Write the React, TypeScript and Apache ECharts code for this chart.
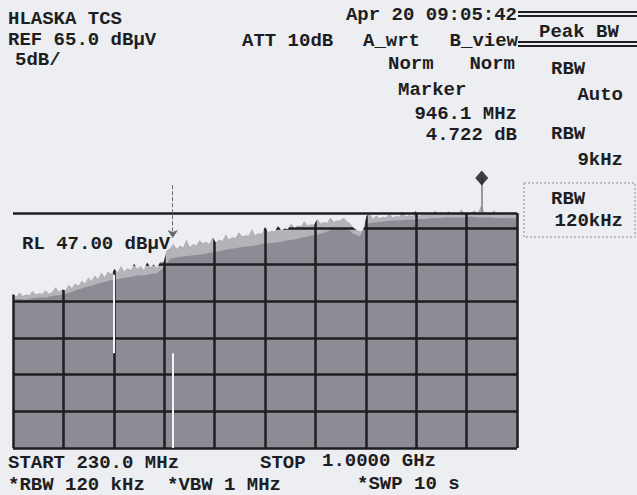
import { useEffect, useRef } from "react";
import * as echarts from "echarts";

const START_MHZ = 230;
const STOP_MHZ = 1000;
const DIV_MHZ = 77;
const BOTTOM_LEVEL = 15;
const REF_LEVEL = 65;
const DB_PER_DIV = 5;
const RL_LEVEL = 47;
const MARKER_MHZ = 946.1;
const MARKER_LEVEL = 51.8;
const MARKER_STEM_LEVEL = 47.2;
const DISPLAY_MARK_MHZ = 474;
const DISPLAY_MARK_TOP = 50.8;
const DISPLAY_MARK_BOTTOM = 43.6;

const BODY_STEP_MHZ = 10;
const bodyLevels = [
  35.2, 35.3, 35.2, 35.4, 35.5, 35.5, 35.7, 35.8, 36.0, 36.3,
  36.6, 36.9, 37.1, 37.4, 37.6, 37.9, 38.0, 38.2, 38.3, 38.5,
  38.5, 38.7, 38.8, 39.6, 40.8, 41.0, 41.1, 41.2, 41.3, 41.4,
  41.6, 41.7, 41.9, 42.1, 42.2, 42.4, 42.5, 42.6, 42.8, 42.9,
  43.0, 43.1, 43.3, 43.4, 43.6, 43.8, 44.0, 44.2, 44.5, 44.8,
  45.0, 44.9, 44.2, 43.8, 45.6, 45.7, 45.8, 45.9, 46.0, 46.0,
  46.1, 46.1, 46.2, 46.2, 46.3, 46.3, 46.4, 46.4, 46.4, 46.4,
  46.5, 46.4, 46.4, 46.4, 46.3, 46.3, 46.3, 46.3,
];

const PEAK_STEP_MHZ = 5;
const peakLevels = [
  35.9, 35.6, 36.2, 35.7, 35.9, 35.8, 36.4, 35.9, 36.1, 36.0,
  36.5, 36.0, 36.3, 36.9, 36.3, 36.6, 36.5, 37.2, 36.8, 37.4,
  37.1, 37.8, 37.4, 38.2, 37.8, 38.5, 38.0, 38.9, 38.3, 39.0,
  38.7, 39.4, 38.9, 39.8, 39.0, 39.5, 39.2, 40.1, 39.4, 39.8,
  39.3, 40.3, 39.6, 40.0, 39.5, 40.4, 40.3, 41.9, 42.2, 42.8,
  42.1, 42.6, 42.3, 43.4, 42.4, 42.8, 42.6, 43.3, 42.9, 43.1,
  42.8, 43.7, 43.0, 43.4, 43.2, 44.1, 43.4, 43.7, 43.6, 44.4,
  43.8, 44.0, 43.9, 44.8, 44.0, 44.3, 44.2, 45.1, 44.4, 44.6,
  44.5, 45.3, 44.6, 44.9, 44.8, 45.6, 45.0, 45.3, 45.2, 45.9,
  45.3, 45.5, 45.4, 46.2, 45.6, 45.8, 45.7, 46.4, 45.8, 46.0,
  46.0, 46.4, 45.9, 45.6, 45.0, 44.7, 44.5, 44.7, 46.6, 47.0,
  46.2, 46.7, 46.3, 46.5, 46.4, 47.0, 46.4, 46.6, 46.5, 47.2,
  46.5, 46.7, 46.6, 47.3, 46.6, 46.8, 46.7, 47.1, 46.7, 47.4,
  46.8, 46.9, 46.7, 47.3, 46.8, 47.0, 46.8, 47.5, 46.9, 47.1,
  47.0, 47.4, 46.9, 48.0, 47.1, 47.0, 46.8, 47.4, 46.9, 47.1,
  46.8, 47.2, 46.7, 47.0, 46.8,
];

// white scan streaks: [MHz, from level, to level]
const streaks = [
  [384, 38.6, 27.9],
  [474, 27.9, 15],
];

const leftTexts = [
  { text: "HLASKA TCS", x: 8, y: 19 },
  { text: "REF 65.0 dB\u00b5V", x: 8, y: 40 },
  { text: "ATT 10dB", x: 242, y: 41 },
  { text: "A_wrt", x: 363, y: 41 },
  { text: "5dB/", x: 15, y: 60 },
  { text: "Norm", x: 388, y: 64 },
  { text: "Marker", x: 398, y: 90 },
  { text: "RL 47.00 dB\u00b5V", x: 22, y: 244 },
  { text: "Peak BW", x: 539, y: 32 },
  { text: "RBW", x: 551, y: 69 },
  { text: "RBW", x: 551, y: 134 },
  { text: "RBW", x: 551, y: 199 },
  { text: "START 230.0 MHz", x: 8, y: 463 },
  { text: "STOP", x: 260, y: 463 },
  { text: "1.0000 GHz", x: 322, y: 461 },
  { text: "*RBW 120 kHz", x: 8, y: 484.5 },
  { text: "*VBW 1 MHz", x: 167, y: 484.5 },
  { text: "*SWP 10 s", x: 357, y: 484 },
];
const rightTexts = [
  { text: "Apr 20 09:05:42", x: 517, y: 15 },
  { text: "B_view", x: 518, y: 41 },
  { text: "Norm", x: 515, y: 64 },
  { text: "946.1 MHz", x: 517, y: 114 },
  { text: "4.722 dB", x: 517, y: 135 },
  { text: "Auto", x: 623, y: 95 },
  { text: "9kHz", x: 623, y: 160 },
  { text: "120kHz", x: 623, y: 221 },
];

const PAPER = "#eceef2";
const INK = "#1e1e22";
const FONT = "Liberation Mono";

export default function App() {
  const ref = useRef<HTMLDivElement>(null);
  useEffect(() => {
    if (!ref.current) return;
    const chart = echarts.init(ref.current, undefined, { renderer: "svg" });
    const peakData = peakLevels.map((v, i) => [i * PEAK_STEP_MHZ, v]);
    const bodyData = bodyLevels.map((v, i) => [i * BODY_STEP_MHZ, v]);
    const off = (f: number) => f - START_MHZ;
    const span = STOP_MHZ - START_MHZ;
    const textStyle = (t: string, align: string) => ({
      text: t,
      fill: INK,
      fontFamily: FONT,
      fontWeight: "bold",
      fontSize: 19,
      lineHeight: 15,
      align,
      verticalAlign: "middle",
    });
    const graphic: any[] = [
      ...leftTexts.map((t) => ({ type: "text", z: 100, x: t.x, y: t.y, style: textStyle(t.text, "left") })),
      ...rightTexts.map((t) => ({ type: "text", z: 100, x: t.x, y: t.y, style: textStyle(t.text, "right") })),
      { type: "line", z: 100, shape: { x1: 518, y1: 12, x2: 637, y2: 12 }, style: { stroke: INK, lineWidth: 2 } },
      { type: "line", z: 100, shape: { x1: 518, y1: 16, x2: 637, y2: 16 }, style: { stroke: INK, lineWidth: 2 } },
      { type: "line", z: 100, shape: { x1: 518, y1: 42, x2: 637, y2: 42 }, style: { stroke: INK, lineWidth: 2 } },
      { type: "line", z: 100, shape: { x1: 518, y1: 46, x2: 637, y2: 46 }, style: { stroke: INK, lineWidth: 2 } },
      {
        type: "rect",
        z: 100,
        shape: { x: 524, y: 183, width: 111, height: 54 },
        style: { fill: "none", stroke: "#8a8c92", lineWidth: 1, lineDash: [2, 2] },
      },
    ];
    chart.setOption({
      animation: false,
      backgroundColor: PAPER,
      grid: { left: 13, right: 120, top: 81, bottom: 47 },
      xAxis: {
        type: "value",
        min: 0,
        max: span,
        interval: DIV_MHZ,
        z: 3,
        axisLine: { show: false },
        axisTick: { show: false },
        axisLabel: { show: false },
        splitLine: { show: true, showMinLine: false, showMaxLine: false, lineStyle: { color: INK, width: 2.5 } },
      },
      yAxis: {
        type: "value",
        min: BOTTOM_LEVEL,
        max: REF_LEVEL,
        interval: DB_PER_DIV,
        z: 3,
        axisLine: { show: false },
        axisTick: { show: false },
        axisLabel: { show: false },
        splitLine: { show: true, showMaxLine: false, lineStyle: { color: INK, width: 2.5 } },
      },
      graphic,
      series: [
        {
          type: "line",
          data: peakData,
          symbol: "none",
          z: 1,
          lineStyle: { width: 1, color: "#a2a3a9" },
          areaStyle: { color: "#b3b4ba", opacity: 1 },
        },
        {
          type: "line",
          data: bodyData,
          symbol: "none",
          z: 2,
          lineStyle: { width: 0 },
          areaStyle: { color: "#8b8c94", opacity: 1 },
        },
        {
          type: "line",
          data: peakData,
          symbol: "none",
          z: 4,
          lineStyle: { width: 0 },
          areaStyle: { color: PAPER, opacity: 1, origin: "end" },
        },
        {
          type: "line",
          data: [],
          z: 5,
          markLine: {
            silent: true,
            symbol: ["none", "none"],
            label: { show: false },
            data: [
              [
                { coord: [0, RL_LEVEL], lineStyle: { color: INK, width: 2.5, type: "solid" } },
                { coord: [span, RL_LEVEL] },
              ],
              [
                { coord: [0, BOTTOM_LEVEL], lineStyle: { color: INK, width: 2.5, type: "solid" } },
                { coord: [0, peakLevels[0]] },
              ],
              [
                { coord: [span, BOTTOM_LEVEL], lineStyle: { color: INK, width: 2.5, type: "solid" } },
                { coord: [span, RL_LEVEL] },
              ],
              ...streaks.map((s) => [
                { coord: [off(s[0]), s[1]], lineStyle: { color: "#f4f5f8", width: 2, type: "solid" } },
                { coord: [off(s[0]), s[2]] },
              ]),
              [
                { coord: [off(MARKER_MHZ), MARKER_STEM_LEVEL], lineStyle: { color: "#7a7b80", width: 1.5, type: "solid" } },
                { coord: [off(MARKER_MHZ), MARKER_LEVEL] },
              ],
              [
                { coord: [off(DISPLAY_MARK_MHZ), DISPLAY_MARK_TOP], lineStyle: { color: "#6a6b70", width: 1, type: "dashed" } },
                { coord: [off(DISPLAY_MARK_MHZ), DISPLAY_MARK_BOTTOM], symbol: "arrow", symbolSize: 8 },
              ],
            ],
          },
        },
        {
          type: "scatter",
          z: 6,
          symbol: "diamond",
          symbolSize: [13, 15],
          itemStyle: { color: "#111" },
          data: [[off(MARKER_MHZ), MARKER_LEVEL]],
        },
      ],
    });
    return () => chart.dispose();
  }, []);
  return (
    <div
      ref={ref}
      style={{ position: "fixed", left: 0, top: 0, width: 637, height: 495 }}
    />
  );
}
